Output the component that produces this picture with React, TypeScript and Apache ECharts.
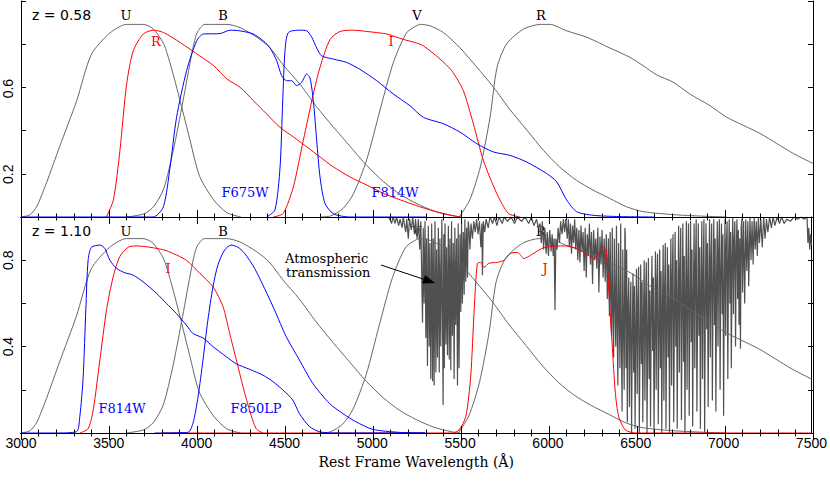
import React, { useEffect, useRef } from "react";
import * as echarts from "echarts";

type P = [number, number];

const X_MIN = 3000;
const X_MAX = 7500;
const X_INTERVAL = 500;
const topYLabels = [0.2, 0.6];
const bottomYLabels = [0.4, 0.8];

// Rest-frame Johnson filters (same in both panels)
const filterU: P[] = [[3000,0],[3050,0.01],[3090,0.05],[3145,0.16],[3220,0.33],[3315,0.54],[3400,0.76],[3505,0.86],[3600,0.9],[3695,0.9],[3750,0.88],[3810,0.81],[3850,0.71],[3905,0.54],[3960,0.36],[4015,0.19],[4095,0.08],[4170,0.02],[4250,0]];
const filterB: P[] = [[3600,0],[3700,0.015],[3755,0.05],[3810,0.13],[3865,0.31],[3920,0.54],[3970,0.76],[4000,0.86],[4045,0.9],[4170,0.9],[4245,0.885],[4340,0.84],[4415,0.79],[4490,0.71],[4585,0.62],[4680,0.515],[4775,0.42],[4870,0.33],[4965,0.24],[5060,0.165],[5155,0.105],[5250,0.062],[5350,0.027],[5450,0.006],[5500,0]];
const filterV: P[] = [[4700,0],[4760,0.005],[4830,0.04],[4890,0.11],[4965,0.27],[5040,0.5],[5115,0.72],[5190,0.86],[5250,0.895],[5270,0.9],[5325,0.893],[5400,0.862],[5495,0.79],[5590,0.7],[5685,0.606],[5780,0.5],[5875,0.405],[5970,0.31],[6060,0.234],[6155,0.172],[6250,0.126],[6345,0.087],[6440,0.048],[6535,0.025],[6725,0.01],[6900,0.003],[7010,0]];
const filterR: P[] = [[5490,0],[5550,0.08],[5610,0.234],[5665,0.466],[5705,0.7],[5760,0.81],[5855,0.878],[5950,0.9],[6005,0.9],[6100,0.87],[6215,0.84],[6345,0.79],[6460,0.746],[6535,0.707],[6610,0.665],[6705,0.63],[6800,0.575],[6915,0.52],[7010,0.466],[7105,0.428],[7200,0.39],[7295,0.343],[7390,0.296],[7500,0.25]];

// z = 0.58 panel
const z058_R: P[] = [[3485,0],[3525,0.08],[3562,0.31],[3600,0.62],[3638,0.777],[3695,0.855],[3752,0.873],[3810,0.862],[3905,0.815],[4015,0.753],[4095,0.707],[4170,0.645],[4245,0.606],[4320,0.544],[4395,0.482],[4470,0.42],[4550,0.373],[4625,0.327],[4700,0.28],[4775,0.234],[4870,0.187],[4965,0.149],[5060,0.11],[5155,0.08],[5265,0.048],[5380,0.02],[5495,0]];
const z058_I: P[] = [[4434,0],[4490,0.017],[4547,0.14],[4604,0.358],[4661,0.575],[4699,0.7],[4756,0.83],[4813,0.867],[4888,0.873],[4964,0.867],[5078,0.855],[5172,0.83],[5240,0.815],[5286,0.8],[5381,0.738],[5447,0.684],[5513,0.591],[5570,0.436],[5627,0.265],[5703,0.11],[5769,0.017],[5835,0]];
const z058_F675W: P[] = [[3000,0],[3750,0],[3809,0.048],[3847,0.234],[3884,0.466],[3941,0.684],[3998,0.823],[4036,0.855],[4131,0.857],[4188,0.873],[4244,0.87],[4320,0.855],[4377,0.823],[4415,0.79],[4453,0.73],[4481,0.66],[4510,0.637],[4538,0.637],[4566,0.614],[4595,0.63],[4623,0.668],[4642,0.65],[4661,0.544],[4680,0.358],[4699,0.187],[4727,0.064],[4775,0.015],[4870,0],[5300,0]];
const z058_F814W: P[] = [[4396,0],[4443,0.033],[4472,0.234],[4487,0.544],[4500,0.777],[4519,0.862],[4585,0.873],[4623,0.87],[4652,0.84],[4680,0.79],[4708,0.753],[4775,0.738],[4851,0.722],[4926,0.69],[5021,0.637],[5115,0.575],[5210,0.52],[5286,0.466],[5399,0.436],[5494,0.397],[5589,0.343],[5684,0.304],[5778,0.288],[5873,0.257],[5987,0.203],[6044,0.164],[6100,0.08],[6157,0.025],[6250,0.008],[6400,0.002],[6600,0]];

// z = 1.10 panel
const z110_F814W: P[] = [[3000,0],[3200,0],[3316,0.006],[3335,0.077],[3354,0.26],[3369,0.57],[3382,0.8],[3401,0.86],[3449,0.87],[3477,0.855],[3506,0.8],[3544,0.762],[3591,0.742],[3638,0.731],[3695,0.7],[3771,0.647],[3828,0.6],[3884,0.554],[3941,0.5],[3979,0.461],[4036,0.44],[4093,0.4],[4169,0.353],[4226,0.32],[4301,0.295],[4377,0.268],[4434,0.238],[4490,0.2],[4547,0.153],[4585,0.09],[4642,0.03],[4699,0.006],[4775,0],[5300,0]];
const z110_I: P[] = [[3335,0],[3382,0.02],[3411,0.106],[3449,0.338],[3487,0.57],[3525,0.724],[3562,0.816],[3610,0.86],[3657,0.866],[3733,0.86],[3828,0.844],[3941,0.8],[4017,0.74],[4093,0.677],[4150,0.585],[4188,0.461],[4226,0.338],[4264,0.214],[4301,0.106],[4339,0.02],[4377,0]];
const z110_F850LP: P[] = [[3760,0],[3950,0.003],[3979,0.045],[4008,0.168],[4036,0.338],[4064,0.523],[4093,0.677],[4121,0.778],[4159,0.847],[4197,0.87],[4235,0.86],[4273,0.832],[4330,0.762],[4386,0.67],[4443,0.57],[4510,0.446],[4585,0.338],[4661,0.23],[4756,0.137],[4832,0.09],[4907,0.052],[5002,0.017],[5153,0.003],[5300,0]];
const z110_J: P[] = [[3800,0],[5456,0],[5494,0.014],[5532,0.075],[5560,0.26],[5580,0.57],[5598,0.785],[5617,0.79],[5636,0.767],[5665,0.786],[5712,0.79],[5750,0.8],[5788,0.832],[5826,0.836],[5864,0.808],[5911,0.828],[5968,0.855],[6044,0.866],[6100,0.866],[6157,0.855],[6214,0.832],[6261,0.808],[6290,0.832],[6313,0.86],[6332,0.84],[6347,0.647],[6365,0.415],[6384,0.184],[6403,0.075],[6441,0.014],[6498,0],[7500,0]];

// Atmospheric transmission
const atmosphere: P[] = [
  [5090,1],[5100,0.99],[5110,0.97],[5118,1],[5130,0.97],[5138,1],[5150,0.96],[5158,0.99],[5170,0.95],[5176,1],[5190,0.93],[5196,0.99],[5205,0.9],[5212,0.99],[5222,0.94],[5230,1],[5240,0.92],[5246,0.99],[5255,0.9],[5262,0.99],[5270,0.85],[5276,0.98],
  [5282,0.7],[5286,0.51],[5290,0.95],[5295,0.6],[5300,0.98],[5305,0.44],[5309,0.9],[5314,0.31],[5319,0.96],[5324,0.4],[5328,0.88],[5333,0.25],[5338,0.97],[5343,0.24],[5347,0.9],[5352,0.22],[5357,0.98],[5362,0.28],[5366,0.85],[5371,0.35],[5376,0.95],[5381,0.28],[5385,0.9],[5390,0.4],[5396,0.99],[5403,0.13],[5407,0.92],[5410,0.3],[5414,0.97],[5419,0.41],[5423,0.86],[5428,0.36],[5433,0.96],[5438,0.34],[5442,0.9],[5447,0.29],[5451,0.98],[5456,0.45],[5461,0.88],[5466,0.25],[5470,0.95],[5475,0.5],[5480,0.9],[5485,0.22],[5489,0.97],[5494,0.3],[5499,0.92],[5504,0.56],[5508,0.98],[5513,0.6],[5518,0.93],[5523,0.64],[5527,0.99],[5532,0.7],[5537,0.95],[5542,0.72],[5546,0.98],
  [5550,0.95],[5556,0.85],[5562,0.97],[5570,0.9],[5578,0.98],[5586,0.93],[5594,0.99],[5602,0.92],[5610,0.98],[5618,0.86],[5624,0.97],[5627,0.73],[5632,0.98],[5640,0.93],[5648,0.99],[5660,0.95],[5670,1],[5685,0.97],[5695,1],[5710,0.96],[5720,1],[5740,0.97],[5750,1],[5770,0.98],[5790,1],[5810,0.97],[5825,1],[5850,0.98],[5870,1],[5890,0.97],[5905,1],[5920,0.96],[5935,0.99],[5945,0.95],
  [5955,0.97],[5962,0.88],[5968,0.98],[5975,0.85],[5982,0.95],[5990,0.83],[5996,0.93],[6003,0.82],[6010,0.94],[6018,0.84],[6024,0.92],[6030,0.82],[6035,0.9],[6040,0.57],[6045,0.9],[6052,0.85],[6058,0.95],[6066,0.88],[6072,0.98],[6080,0.92],[6088,0.99],[6095,0.93],[6102,0.99],
  [6110,0.9],[6116,0.99],[6122,0.86],[6128,0.97],[6134,0.83],[6140,0.96],[6146,0.88],[6152,0.99],[6158,0.85],[6164,0.95],[6170,0.8],[6176,0.94],[6182,0.79],[6188,0.96],[6194,0.84],[6200,0.93],[6206,0.75],[6212,0.95],[6218,0.72],[6224,0.92],[6230,0.82],[6236,0.97],[6242,0.78],[6248,0.93],[6254,0.69],[6260,0.94],[6266,0.8],[6272,0.9],[6278,0.76],[6284,0.95],[6290,0.65],[6296,0.91],[6302,0.78],[6308,0.94],[6314,0.72],[6320,0.9],[6326,0.7],[6332,0.92],[6338,0.62],[6344,0.9],
  [6350,0.54],[6354,0.93],[6358,0.62],[6362,0.45],[6366,0.95],[6370,0.55],[6374,0.35],[6378,0.9],[6382,0.6],[6386,0.4],[6390,0.96],[6394,0.5],[6398,0.22],[6402,0.88],[6406,0.55],[6410,0.3],[6414,0.97],[6418,0.45],[6422,0.1],[6426,0.85],[6430,0.5],[6434,0.2],[6438,0.95],
  [6440,0.92],[6444,0.3],[6448,0.85],[6452,0.05],[6456,0.6],[6460,0.72],[6464,0.12],[6468,0.55],[6472,0.7],[6476,0],[6480,0.45],[6484,0.74],[6488,0.28],[6492,0.68],[6496,0.02],[6500,0.5],[6504,0.76],[6508,0.18],[6512,0.6],[6516,0.77],[6520,0],[6524,0.4],[6528,0.78],[6532,0.32],[6536,0.7],[6540,0.05],[6544,0.55],[6548,0.8],[6552,0.15],[6556,0.62],[6560,0.79],[6564,0],[6568,0.45],[6572,0.81],[6576,0.25],[6580,0.66],[6584,0.03],[6588,0.58],[6592,0.82],[6596,0.38],[6600,0.72],[6604,0],[6608,0.5],[6612,0.84],[6616,0.2],[6620,0.7],[6624,0.83],[6628,0.04],[6632,0.48],[6636,0.85],[6640,0.3],[6644,0.75],[6648,0],[6652,0.6],[6656,0.87],[6660,0.15],[6664,0.66],[6668,0.88],[6672,0.02],[6676,0.52],[6680,0.86],[6684,0.35],[6688,0.78],[6692,0],[6696,0.6],[6700,0.9],[6704,0.22],[6708,0.72],[6712,0.92],[6716,0.05],[6720,0.55],[6724,0.93],[6728,0.4],[6732,0.8],[6736,0.02],[6740,0.62],[6744,0.96],[6748,0.28],[6752,0.75],[6756,0.95],[6760,0.06],[6764,0.58],[6768,0.97],[6772,0.33],[6776,0.82],[6780,0],[6784,0.66],[6788,0.98],[6792,0.2],[6796,0.7],[6800,0.97],[6804,0.08],[6808,0.6],[6812,0.98],[6816,0.42],[6820,0.85],[6824,0.03],[6828,0.64],[6832,0.97],[6836,0.3],[6840,0.78],[6844,0.99],[6848,0.1],[6852,0.55],[6856,0.97],[6860,0.45],[6864,0.86],[6868,0.02],[6872,0.68],[6876,0.98],[6880,0.25],[6884,0.74],[6888,0.99],[6892,0],[6896,0.6],[6900,0.97],[6904,0.48],[6908,0.88],[6912,0.12],[6916,0.7],[6920,0.99],[6924,0.35],[6928,0.8],[6932,0.97],[6936,0.15],[6940,0.66],[6944,0.99],[6948,0.5],[6952,0.9],[6956,0.1],[6960,0.72],[6964,0.98],[6968,0.4],[6972,0.85],[6976,0.99],[6980,0.2],[6984,0.75],[6988,0.97],[6992,0.55],[6996,0.92],[7000,0.08],[7004,0.7],[7008,0.99],[7012,0.45],[7016,0.88],[7020,0.98],[7024,0.25],[7028,0.8],[7032,0.99],[7036,0.6],[7040,0.93],[7044,0.3],[7048,0.82],[7052,1],[7056,0.55],[7060,0.9],[7064,0.98],[7068,0.4],[7072,0.85],[7076,0.99],[7080,0.62],[7084,0.94],[7088,0.5],[7092,0.9],[7096,0.39],[7100,0.95],
  [7104,0.99],[7108,0.65],[7114,0.98],[7120,0.6],[7126,0.99],[7132,0.75],[7138,0.98],[7143,0.68],[7150,1],[7156,0.8],[7162,0.98],[7168,0.78],[7174,1],[7180,0.85],[7186,0.98],[7192,0.82],[7198,1],[7204,0.88],[7212,0.99],[7220,0.86],[7228,1],[7236,0.9],[7244,0.99],[7252,0.93],[7262,1],[7272,0.95],[7282,1],[7292,0.96],[7305,1],[7318,0.97],[7330,1],[7345,0.97],[7360,0.99],[7380,0.98],[7400,1],[7420,0.99],[7440,1],[7460,0.99],[7475,1],[7480,0.88],[7485,0.95],[7490,0.85],[7495,0.92],[7500,0.87]
];

const GRAY = "#666666";
const RED = "#ff0000";
const BLUE = "#0000ff";
const SERIF = "DejaVu Serif";
const SANS = "Liberation Sans";

const GRIDS = [
  { left: 21, right: 17, top: 1, height: 216 },
  { left: 21, right: 17, top: 217, height: 216 },
];

function lineSeries(name: string, data: P[], color: string, panel: number, extra: any = {}) {
  return {
    type: "line",
    name,
    data,
    xAxisIndex: panel * 2,
    yAxisIndex: panel * 2,
    showSymbol: false,
    symbol: "none",
    smooth: 0.25,
    lineStyle: { color, width: 1 },
    itemStyle: { color },
    silent: true,
    z: 3,
    ...extra,
  };
}

const blk = () => ({ color: "#000", width: 1 });

// withTicks: used by the overlay chart that only draws the frame and tick marks
function xAxisFor(panel: number, pos: "top" | "bottom", labels: boolean, withTicks: boolean) {
  return {
    gridIndex: panel,
    type: "value",
    min: X_MIN,
    max: X_MAX,
    interval: X_INTERVAL,
    position: pos,
    axisLine: { show: true, lineStyle: blk() },
    axisTick: withTicks ? { show: true, inside: true, length: 7, lineStyle: blk() } : { show: false },
    minorTick: withTicks ? { show: true, splitNumber: 5, length: 3.5, lineStyle: blk() } : { show: false },
    splitLine: { show: false },
    axisLabel: labels
      ? {
          show: true,
          color: "#000",
          fontFamily: SANS,
          fontSize: 14,
          margin: 3,
          formatter: (v: number) => String(Math.round(v)),
        }
      : { show: false },
    ...(labels
      ? {
          name: "Rest Frame Wavelength (Å)",
          nameLocation: "middle",
          nameGap: 22,
          nameTextStyle: { color: "#000", fontFamily: SERIF, fontSize: 14 },
        }
      : {}),
  };
}

function yAxisFor(panel: number, pos: "left" | "right", shown: number[], withTicks: boolean) {
  return {
    gridIndex: panel,
    type: "value",
    min: 0,
    max: 1,
    interval: 0.2,
    position: pos,
    axisLine: { show: true, lineStyle: blk() },
    axisTick: withTicks ? { show: true, inside: true, length: 5, lineStyle: blk() } : { show: false },
    splitLine: { show: false },
    axisLabel:
      pos === "left" && shown.length
        ? {
            show: true,
            rotate: 90,
            margin: 6,
            color: "#000",
            fontFamily: SANS,
            fontSize: 14,
            formatter: (v: number) => {
              const r = Math.round(v * 10) / 10;
              return shown.some((s) => Math.abs(s - r) < 1e-6) ? r.toFixed(1) : "";
            },
          }
        : { show: false },
  };
}

function label(text: string, x: number, y: number, color: string, font: string, align = "center") {
  return {
    type: "text",
    x,
    y,
    z: 1,
    silent: true,
    style: {
      text,
      fill: color,
      font,
      textAlign: align,
      textVerticalAlign: "middle",
      align,
      verticalAlign: "middle",
    },
  };
}

export default function App() {
  const ref = useRef<HTMLDivElement>(null);
  const frameRef = useRef<HTMLDivElement>(null);
  useEffect(() => {
    if (!ref.current || !frameRef.current) return;
    const chart = echarts.init(ref.current, null, { renderer: "svg" });
    const frame = echarts.init(frameRef.current, null, { renderer: "svg" });
    const serif13 = `13px "${SERIF}"`;
    const zfont = `14px "DejaVu Sans"`;

    chart.setOption({
      animation: false,
      grid: GRIDS,
      xAxis: [
        xAxisFor(0, "bottom", false, false),
        xAxisFor(0, "top", false, false),
        xAxisFor(1, "bottom", true, false),
        xAxisFor(1, "top", false, false),
      ],
      yAxis: [
        yAxisFor(0, "left", topYLabels, false),
        yAxisFor(0, "right", [], false),
        yAxisFor(1, "left", bottomYLabels, false),
        yAxisFor(1, "right", [], false),
      ],
      series: [
        lineSeries("U", filterU, GRAY, 0),
        lineSeries("B", filterB, GRAY, 0),
        lineSeries("V", filterV, GRAY, 0),
        lineSeries("R", filterR, GRAY, 0),
        lineSeries("R (z=0.58)", z058_R, RED, 0),
        lineSeries("I (z=0.58)", z058_I, RED, 0),
        lineSeries("F675W", z058_F675W, BLUE, 0),
        lineSeries("F814W (z=0.58)", z058_F814W, BLUE, 0),
        lineSeries("Atmospheric transmission", atmosphere, "#505050", 1, {
          smooth: false,
          z: 2,
          lineStyle: { color: "#505050", width: 1.2 },
        }),
        lineSeries("U ", filterU, GRAY, 1),
        lineSeries("B ", filterB, GRAY, 1),
        lineSeries("V ", filterV, GRAY, 1),
        lineSeries("R ", filterR, GRAY, 1),
        lineSeries("I (z=1.10)", z110_I, RED, 1),
        lineSeries("J (z=1.10)", z110_J, RED, 1),
        lineSeries("F814W (z=1.10)", z110_F814W, BLUE, 1),
        lineSeries("F850LP", z110_F850LP, BLUE, 1),
      ],
      graphic: {
        elements: [
          label("z = 0.58", 32, 15, "#000", zfont, "left"),
          label("U", 126, 15, "#000", serif13),
          label("B", 223, 15, "#000", serif13),
          label("V", 417, 15, "#000", serif13),
          label("R", 541, 15, "#000", serif13),
          label("R", 156, 41, RED, serif13),
          label("I", 391, 41, RED, serif13),
          label("F675W", 245, 192, BLUE, serif13),
          label("F814W", 395, 192, BLUE, serif13),
          label("z = 1.10", 32, 231, "#000", zfont, "left"),
          label("U", 126, 231, "#000", serif13),
          label("B", 223, 231, "#000", serif13),
          label("V", 417, 231, "#000", serif13),
          label("R", 541, 231, "#000", serif13),
          label("I", 168, 268, RED, serif13),
          label("J", 545, 268, RED, serif13),
          label("F814W", 122, 408, BLUE, serif13),
          label("F850LP", 256, 408, BLUE, serif13),
          label("Atmospheric", 285, 258, "#000", serif13, "left"),
          label("transmission", 286, 272, "#000", serif13, "left"),
          {
            type: "line",
            z: 5,
            silent: true,
            shape: { x1: 381, y1: 265, x2: 426, y2: 280 },
            style: { stroke: "#000", lineWidth: 1 },
          },
          {
            type: "polygon",
            z: 5,
            silent: true,
            shape: { points: [[435, 283], [422.2, 283.5], [425, 274.9]] },
            style: { fill: "#000" },
          },
        ],
      },
    });

    // Transparent overlay: same grids and axes, drawing the frame with its tick marks
    frame.setOption({
      animation: false,
      backgroundColor: "transparent",
      grid: GRIDS,
      xAxis: [
        xAxisFor(0, "bottom", false, true),
        xAxisFor(0, "top", false, true),
        xAxisFor(1, "bottom", false, true),
        xAxisFor(1, "top", false, true),
      ],
      yAxis: [
        yAxisFor(0, "left", [], true),
        yAxisFor(0, "right", [], true),
        yAxisFor(1, "left", [], true),
        yAxisFor(1, "right", [], true),
      ],
      series: [],
    });

    return () => {
      frame.dispose();
      chart.dispose();
    };
  }, []);
  return (
    <div style={{ position: "absolute", left: 0, top: 0, width: 830, height: 481, background: "#fff" }}>
      <div ref={ref} style={{ position: "absolute", left: 0, top: 0, width: 830, height: 481 }} />
      <div
        ref={frameRef}
        style={{ position: "absolute", left: 0, top: 0, width: 830, height: 481, pointerEvents: "none" }}
      />
    </div>
  );
}
